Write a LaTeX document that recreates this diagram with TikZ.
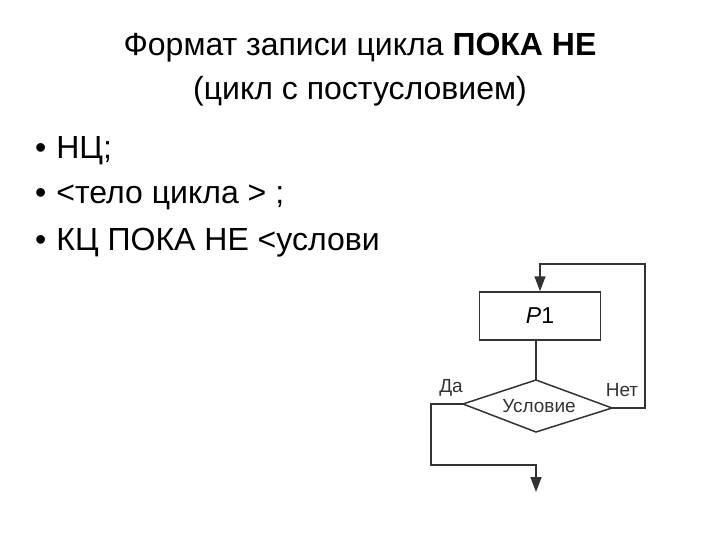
\documentclass[tikz,border=0pt]{standalone}
\usepackage{fontspec}
\setmainfont{Liberation Sans}
\usetikzlibrary{arrows.meta}
\begin{document}
\begin{tikzpicture}[x=1pt,y=-1pt,
  txt/.style={anchor=west,font=\fontsize{32}{36}\selectfont,inner sep=0},
  ln/.style={line width=1.5pt,draw=black!80},
  arr/.style={ln,-{Triangle[length=15pt,width=11pt]}},
  lbl/.style={font=\fontsize{19}{21}\selectfont,text=black!80,inner sep=0}]
\useasboundingbox (0,0) rectangle (720,540);
\node[font=\fontsize{32}{36}\selectfont,inner sep=0] (t1) at (360,48) {Формат записи цикла \textbf{ПОКА НЕ}};
\node[font=\fontsize{32}{36}\selectfont,inner sep=0] (t2) at (360,91) {(цикл с постусловием)};
\node[txt] (b1) at (35,151) {•\hspace{10pt}НЦ;};
\node[txt] (b2) at (35,197) {•\hspace{10pt}<тело цикла > ;};
\node[txt] (b3) at (35,243) {•\hspace{10pt}КЦ ПОКА НЕ <услови};
\node[ln,rectangle,minimum width=121pt,minimum height=48pt,inner sep=0] (p1) at (540,316) {\fontsize{23}{25}\selectfont\itshape P\upshape 1};
\draw[ln] (536,380) coordinate (dt) -- (612,408) coordinate (dr) -- (536,432) coordinate (db) -- (463,404) coordinate (dl) -- cycle;
\node[lbl] (cond) at (539,406) {Условие};
\draw[ln] (p1.south -| dt) -- (dt);
\coordinate (r1) at (645,408);
\coordinate (r2) at (645,264);
\coordinate (r3) at (540,264);
\draw[arr] (dr) -- (r1) -- (r2) -- (r3) -- (p1.north);
\coordinate (l1) at (431,404);
\coordinate (l2) at (431,465);
\coordinate (l3) at (536,465);
\coordinate (l4) at (536,492);
\draw[arr] (dl) -- (l1) -- (l2) -- (l3) -- (l4);
\node[lbl] (da) at (451,388) {Да};
\node[lbl] (net) at (622,390) {Нет};
\end{tikzpicture}
\end{document}
